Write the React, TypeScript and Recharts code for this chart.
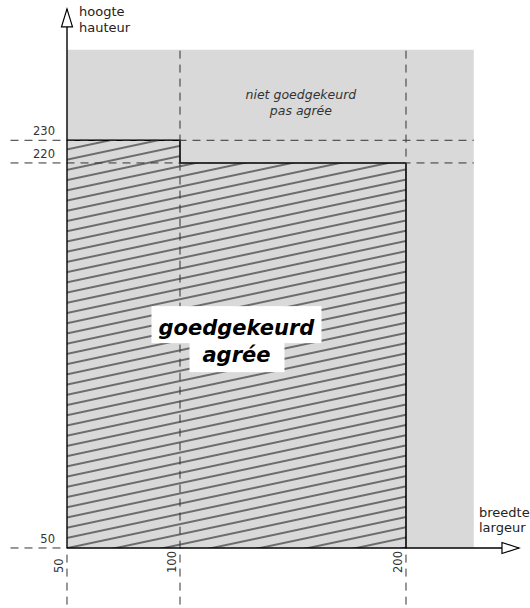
import React from 'react';
import { ComposedChart, Area, XAxis, YAxis, ReferenceArea, ReferenceLine, ReferenceDot } from 'recharts';

// widths (breedte / largeur) and heights (hoogte / hauteur) in cm
const xTicks = [50, 100, 200];
const yTicks = [50, 220, 230];

// approved zone: step outline
const hatchX = [50, 100, 200];
const hatchY = [230, 220, 220];

// not-approved zone (grey)
const greyX = [50, 230];
const greyY = [50, 270];

const axisTip = { x: 250, y: 288 };
const guideStart = 25;
const guideEndX = 230;
const guideEndY = 270;

const chartData = hatchX.map((x, i) => ({ x, y: hatchY[i] }));

const FONT = 'DejaVu Sans';
const DASH = '8 6';

const App: React.FC = () => {
  return (
    <div style={{ position: 'absolute', left: 0, top: 0 }}>
      <ComposedChart
        width={530}
        height={608}
        data={chartData}
        margin={{ top: 4.4, right: 6.5, bottom: 3.4, left: 10.5 }}
      >
        <defs>
          <pattern
            id="hatch"
            patternUnits="userSpaceOnUse"
            width={10}
            height={10}
            y={5.1}
            patternTransform="rotate(-12)"
          >
            <line x1={-1} y1={5} x2={11} y2={5} stroke="#000" strokeWidth={1} />
          </pattern>
        </defs>
        <XAxis type="number" dataKey="x" domain={[25, 252]} hide allowDataOverflow />
        <YAxis type="number" domain={[25, 290]} hide allowDataOverflow />

        <ReferenceArea x1={greyX[0]} x2={greyX[1]} y1={greyY[0]} y2={greyY[1]} fill="#d9d9d9" fillOpacity={1} stroke="none" />

        <Area
          type="stepAfter"
          dataKey="y"
          baseValue={hatchY.length ? yTicks[0] : 0}
          stroke="#000"
          strokeWidth={1.6}
          fill="url(#hatch)"
          fillOpacity={1}
          isAnimationActive={false}
          dot={false}
          activeDot={false}
        />
        <ReferenceLine
          segment={[{ x: hatchX[2], y: yTicks[0] }, { x: hatchX[2], y: hatchY[2] }]}
          stroke="#000"
          strokeWidth={1.6}
        />

        {/* main label with white backing */}
        <ReferenceDot
          x={125}
          y={140}
          r={0}
          shape={(p: any) => (
            <g>
              <rect x={p.cx - 85} y={p.cy - 38} width={170} height={37} fill="#fff" />
              <rect x={p.cx - 47} y={p.cy - 2} width={95} height={30} fill="#fff" />
              <text x={p.cx} y={p.cy - 9} textAnchor="middle" fontFamily={FONT} fontSize={21} fontWeight="bold" fontStyle="italic" fill="#000">goedgekeurd</text>
              <text x={p.cx} y={p.cy + 18} textAnchor="middle" fontFamily={FONT} fontSize={21} fontWeight="bold" fontStyle="italic" fill="#000">agrée</text>
            </g>
          )}
        />

        {/* dashed guides */}
        {yTicks.slice(1).map((t) => (
          <ReferenceLine key={'h' + t} segment={[{ x: guideStart, y: t }, { x: guideEndX, y: t }]} stroke="#333" strokeDasharray={DASH} />
        ))}
        <ReferenceLine segment={[{ x: guideStart, y: yTicks[0] }, { x: xTicks[0], y: yTicks[0] }]} stroke="#333" strokeDasharray={DASH} />
        <ReferenceLine segment={[{ x: xTicks[0], y: guideStart }, { x: xTicks[0], y: yTicks[0] }]} stroke="#333" strokeDasharray={DASH} />
        {xTicks.slice(1).map((t) => (
          <ReferenceLine key={'v' + t} segment={[{ x: t, y: guideStart }, { x: t, y: guideEndY }]} stroke="#333" strokeDasharray={DASH} />
        ))}

        {/* axes */}
        <ReferenceLine segment={[{ x: xTicks[0], y: yTicks[0] }, { x: axisTip.x, y: yTicks[0] }]} stroke="#000" strokeWidth={1.4} />
        <ReferenceLine segment={[{ x: xTicks[0], y: yTicks[0] }, { x: xTicks[0], y: axisTip.y }]} stroke="#000" strokeWidth={1.4} />
        <ReferenceDot
          x={axisTip.x}
          y={yTicks[0]}
          r={0}
          shape={(p: any) => (
            <g>
              <polygon points={`${p.cx},${p.cy} ${p.cx - 17},${p.cy - 5.5} ${p.cx - 17},${p.cy + 5.5}`} fill="#fff" stroke="#000" strokeWidth={1.2} />
              <text x={p.cx - 40} y={p.cy - 31} fontFamily={FONT} fontSize={13} fill="#222">breedte</text>
              <text x={p.cx - 40} y={p.cy - 16} fontFamily={FONT} fontSize={13} fill="#222">largeur</text>
            </g>
          )}
        />
        <ReferenceDot
          x={xTicks[0]}
          y={axisTip.y}
          r={0}
          shape={(p: any) => (
            <g>
              <polygon points={`${p.cx},${p.cy} ${p.cx - 5.5},${p.cy + 18} ${p.cx + 5.5},${p.cy + 18}`} fill="#fff" stroke="#000" strokeWidth={1.2} />
              <text x={p.cx + 12} y={p.cy + 7} fontFamily={FONT} fontSize={13} fill="#222">hoogte</text>
              <text x={p.cx + 12} y={p.cy + 23} fontFamily={FONT} fontSize={13} fill="#222">hauteur</text>
            </g>
          )}
        />

        {/* grey zone label */}
        <ReferenceDot
          x={153.5}
          y={244.7}
          r={0}
          shape={(p: any) => (
            <g>
              <text x={p.cx} y={p.cy - 8} textAnchor="middle" fontFamily={FONT} fontSize={12.5} fontStyle="italic" fill="#333">niet goedgekeurd</text>
              <text x={p.cx} y={p.cy + 8} textAnchor="middle" fontFamily={FONT} fontSize={12.5} fontStyle="italic" fill="#333">pas agrée</text>
            </g>
          )}
        />

        {/* tick labels */}
        {yTicks.map((t) => (
          <ReferenceDot
            key={'yt' + t}
            x={xTicks[0]}
            y={t}
            r={0}
            shape={(p: any) => (
              <text x={p.cx - 12} y={p.cy - 5} textAnchor="end" fontFamily={FONT} fontSize={11.5} fill="#333">{t}</text>
            )}
          />
        ))}
        {xTicks.map((t) => (
          <ReferenceDot
            key={'xt' + t}
            x={t}
            y={yTicks[0]}
            r={0}
            shape={(p: any) => (
              <text transform={`translate(${p.cx - 4},${p.cy + 25}) rotate(-90)`} textAnchor="start" fontFamily={FONT} fontSize={11.5} fill="#333">{t}</text>
            )}
          />
        ))}
      </ComposedChart>
    </div>
  );
};

export default App;
